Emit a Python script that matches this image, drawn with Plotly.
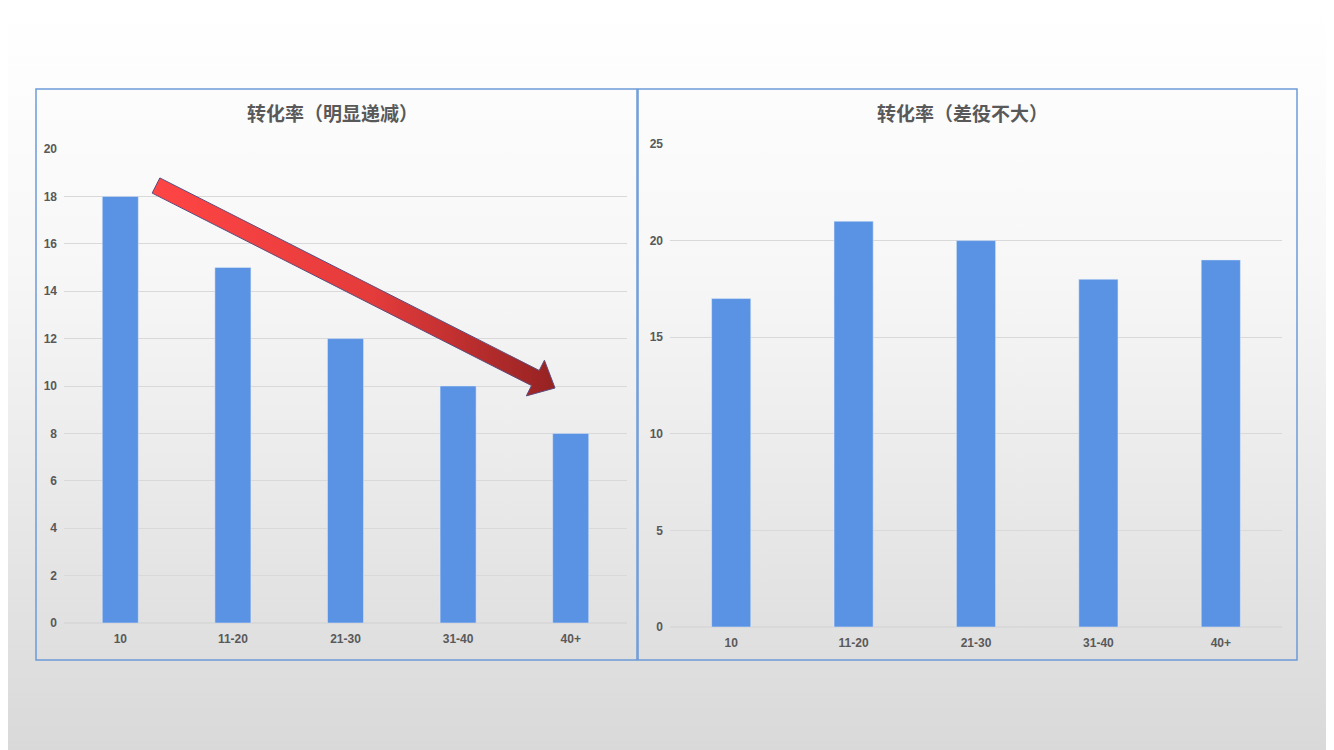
import base64
import plotly.graph_objects as go

# the browser page keeps an 8px body margin, so the figure is a bit smaller
OFF = 8
W, H = 1334 - OFF, 750 - OFF

# chart data
age_groups = ["10", "11-20", "21-30", "31-40", "40+"]
rate_left = [18, 15, 12, 10, 8]
rate_right = [17, 21, 20, 18, 19]
title_left = "转化率（明显递减）"
title_right = "转化率（差役不大）"

BAR = "#5b93e4"
TXT = "#595959"
GRID = "#d9d9d9"
BORDER = "#6c9bd8"


def px(x):
    # screen pixel -> paper fraction
    return (x - OFF) / W


def py(y):
    return 1 - (y - OFF) / H


# page background: soft vertical gradient (svg data uri, no network needed)
svg = f"""<svg xmlns='http://www.w3.org/2000/svg' width='{W}' height='{H}' viewBox='0 0 {W} {H}' preserveAspectRatio='none'>
<defs><linearGradient id='g' x1='0' y1='0' x2='0' y2='1'>
<stop offset='0' stop-color='#ffffff'/><stop offset='0.35' stop-color='#f7f7f7'/>
<stop offset='1' stop-color='#d9d9d9'/></linearGradient></defs>
<rect width='{W}' height='{H}' fill='url(#g)'/></svg>"""
bg = "data:image/svg+xml;base64," + base64.b64encode(svg.encode()).decode()

fig = go.Figure()

fig.add_trace(go.Bar(x=age_groups, y=rate_left, marker_color=BAR,
                     xaxis="x", yaxis="y", showlegend=False))
fig.add_trace(go.Bar(x=age_groups, y=rate_right, marker_color=BAR,
                     xaxis="x2", yaxis="y2", showlegend=False))


def arrow(tail, tip, shaft=17, head_w=40, head_l=22):
    # polygon of a block arrow in screen pixels
    dx, dy = tip[0] - tail[0], tip[1] - tail[1]
    ln = (dx * dx + dy * dy) ** 0.5
    ux, uy = dx / ln, dy / ln
    nx, ny = -uy, ux
    bx, by = tip[0] - ux * head_l, tip[1] - uy * head_l
    s, h = shaft / 2, head_w / 2
    pts = [
        (tail[0] + nx * s, tail[1] + ny * s),
        (bx + nx * s, by + ny * s),
        (bx + nx * h, by + ny * h),
        tip,
        (bx - nx * h, by - ny * h),
        (bx - nx * s, by - ny * s),
        (tail[0] - nx * s, tail[1] - ny * s),
    ]
    pts.append(pts[0])
    return [p[0] for p in pts], [p[1] for p in pts]


ax_, ay_ = arrow((156, 185.5), (555, 388))
fig.add_trace(go.Scatter(
    x=ax_, y=ay_, xaxis="x3", yaxis="y3", mode="lines", fill="toself",
    line=dict(color="#5e4c7c", width=1),
    fillgradient=dict(type="horizontal",
                      colorscale=[[0, "#ff4545"], [0.55, "#e43b3b"], [1, "#962222"]]),
    hoverinfo="skip", showlegend=False))

tick = dict(family="Liberation Sans, Arial", size=12, color=TXT, weight="bold")

fig.update_layout(
    width=W, height=H,
    margin=dict(l=0, r=0, t=0, b=0, autoexpand=False),
    paper_bgcolor="rgba(0,0,0,0)",
    plot_bgcolor="rgba(0,0,0,0)",
    bargap=0.68,
    images=[dict(source=bg, xref="paper", yref="paper", x=0, y=1,
                 sizex=1, sizey=1, sizing="stretch", layer="below")],
    xaxis=dict(domain=[px(64), px(627)], anchor="y", tickfont=tick,
               showline=False, ticks="", ticklabelstandoff=7),
    yaxis=dict(domain=[py(623), py(149)], anchor="x", range=[0, 20], dtick=2,
               tickfont=tick, gridcolor=GRID, zerolinecolor=GRID, showline=False,
               ticklabelstandoff=6),
    xaxis2=dict(domain=[px(670), px(1282)], anchor="y2", tickfont=tick,
                showline=False, ticks="", ticklabelstandoff=7),
    yaxis2=dict(domain=[py(627), py(144)], anchor="x2", range=[0, 25], dtick=5,
                tickfont=tick, gridcolor=GRID, zerolinecolor=GRID, showline=False,
                ticklabelstandoff=6),
    # overlay axes in screen pixels for the decorative arrow
    xaxis3=dict(domain=[0, 1], range=[OFF, OFF + W], visible=False, anchor="y3"),
    yaxis3=dict(domain=[0, 1], range=[OFF + H, OFF], visible=False, anchor="x3"),
    shapes=[
        dict(type="rect", xref="paper", yref="paper",
             x0=px(36), x1=px(637), y0=py(660), y1=py(89),
             line=dict(color=BORDER, width=1.5)),
        dict(type="rect", xref="paper", yref="paper",
             x0=px(638), x1=px(1297), y0=py(660), y1=py(89),
             line=dict(color=BORDER, width=1.5)),
    ],
    annotations=[
        dict(text=title_left, xref="paper", yref="paper", x=px(332), y=py(112),
             showarrow=False, xanchor="center", yanchor="middle",
             font=dict(family="Noto Sans CJK SC", size=19, color=TXT, weight="bold")),
        dict(text=title_right, xref="paper", yref="paper", x=px(962), y=py(112),
             showarrow=False, xanchor="center", yanchor="middle",
             font=dict(family="Noto Sans CJK SC", size=19, color=TXT, weight="bold")),
    ],
)

fig.write_html("out.html")
